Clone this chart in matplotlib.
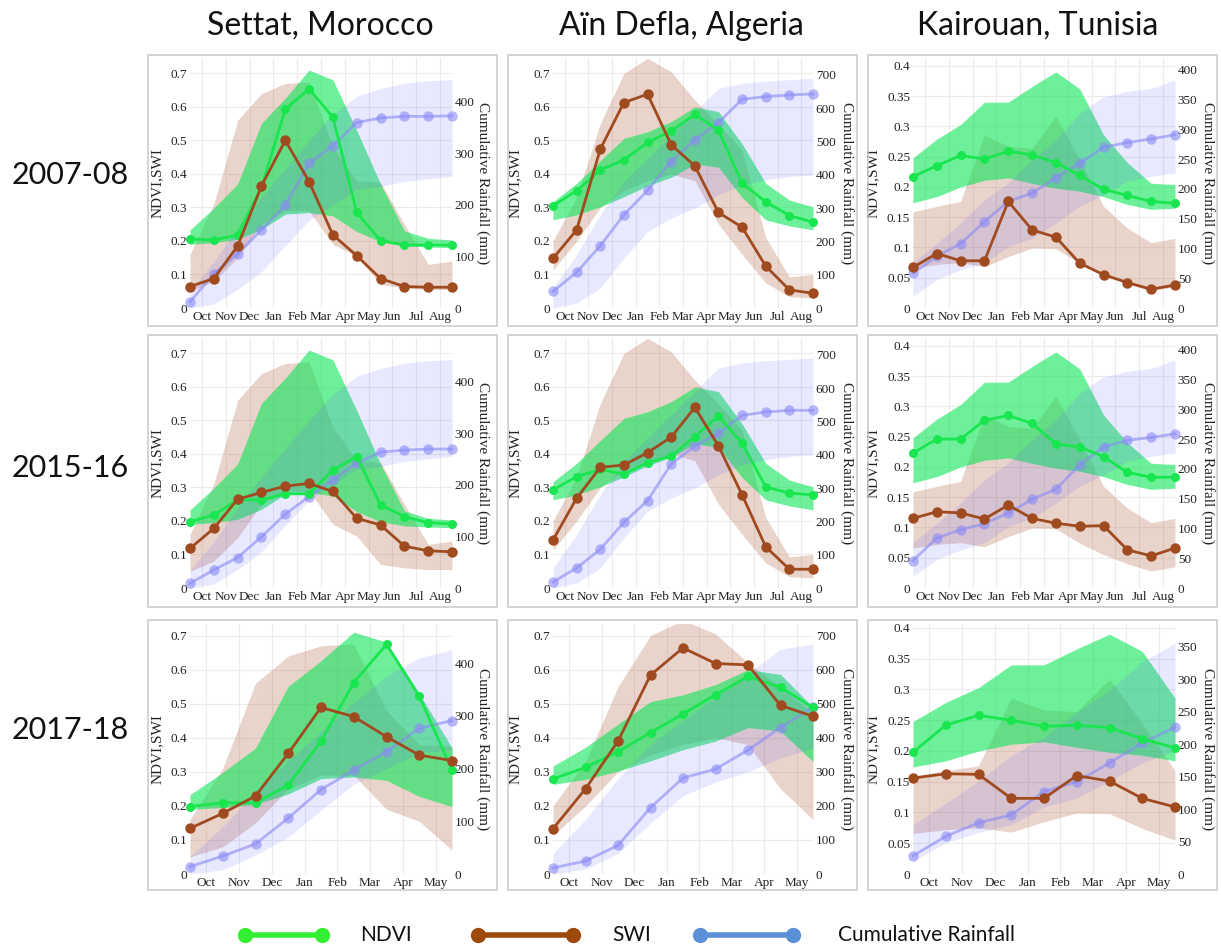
import matplotlib
matplotlib.use('Agg')
import matplotlib.pyplot as plt
import numpy as np
from matplotlib.patches import Rectangle
from matplotlib.lines import Line2D

plt.rcParams['font.family'] = ['Liberation Serif', 'DejaVu Serif']

W, H = 1221, 946

# ---------------- data ----------------
sites = ['Settat, Morocco', 'Aïn Defla, Algeria', 'Kairouan, Tunisia']
seasons = ['2007-08', '2015-16', '2017-18']
month_labels = ['Oct', 'Nov', 'Dec', 'Jan', 'Feb', 'Mar', 'Apr', 'May', 'Jun', 'Jul', 'Aug']

# climatological envelopes (Sep..Aug)
settat_ndvi_lo = [0.19, 0.195, 0.205, 0.235, 0.28, 0.285, 0.275, 0.228, 0.198, 0.185, 0.182, 0.18]
settat_ndvi_hi = [0.233, 0.298, 0.37, 0.551, 0.626, 0.71, 0.681, 0.53, 0.37, 0.23, 0.208, 0.203]
settat_swi_lo = [0.05, 0.08, 0.15, 0.25, 0.29, 0.29, 0.19, 0.155, 0.07, 0.06, 0.055, 0.055]
settat_swi_hi = [0.16, 0.31, 0.56, 0.64, 0.67, 0.675, 0.48, 0.38, 0.375, 0.25, 0.13, 0.14]
settat_rain_lo = [0, 8, 36, 70, 121, 170, 200, 230, 235, 245, 250, 255]
settat_rain_hi = [33, 90, 155, 215, 270, 325, 375, 410, 425, 435, 440, 442]

aindefla_ndvi_lo = [0.263, 0.278, 0.302, 0.332, 0.365, 0.39, 0.43, 0.42, 0.33, 0.263, 0.245, 0.233]
aindefla_ndvi_hi = [0.317, 0.372, 0.44, 0.506, 0.526, 0.556, 0.60, 0.586, 0.49, 0.372, 0.322, 0.302]
aindefla_swi_lo = [0.113, 0.2, 0.3, 0.35, 0.38, 0.40, 0.38, 0.25, 0.16, 0.075, 0.034, 0.03]
aindefla_swi_hi = [0.2, 0.33, 0.55, 0.70, 0.745, 0.705, 0.62, 0.55, 0.47, 0.21, 0.093, 0.1]
aindefla_rain_lo = [0, 15, 60, 150, 230, 270, 300, 340, 370, 385, 395, 400]
aindefla_rain_hi = [60, 160, 280, 380, 450, 520, 590, 660, 675, 682, 686, 690]

kairouan_ndvi_lo = [0.174, 0.184, 0.2, 0.211, 0.215, 0.206, 0.198, 0.193, 0.184, 0.171, 0.163, 0.165]
kairouan_ndvi_hi = [0.248, 0.279, 0.303, 0.34, 0.34, 0.366, 0.39, 0.362, 0.286, 0.24, 0.206, 0.204]
kairouan_swi_lo = [0.066, 0.072, 0.075, 0.068, 0.085, 0.099, 0.098, 0.074, 0.055, 0.04, 0.028, 0.035]
kairouan_swi_hi = [0.159, 0.168, 0.176, 0.286, 0.267, 0.264, 0.317, 0.245, 0.168, 0.132, 0.108, 0.115]
kairouan_rain_lo = [20, 48, 64, 76, 103, 117, 143, 171, 190, 213, 221, 227]
kairouan_rain_hi = [76, 109, 143, 182, 210, 249, 283, 327, 355, 364, 369, 383]

# seasonal series
settat_0708_ndvi = [0.206, 0.203, 0.218, 0.36, 0.593, 0.654, 0.569, 0.285, 0.201, 0.188, 0.188, 0.188]
settat_0708_swi = [0.064, 0.088, 0.185, 0.364, 0.5, 0.377, 0.218, 0.156, 0.088, 0.064, 0.062, 0.062]
settat_0708_rain = [12, 66, 105, 151, 199, 280, 314, 359, 368, 371, 371, 372]
settat_1516_ndvi = [0.198, 0.218, 0.263, 0.263, 0.281, 0.281, 0.352, 0.392, 0.248, 0.213, 0.195, 0.191]
settat_1516_swi = [0.118, 0.178, 0.265, 0.285, 0.304, 0.312, 0.288, 0.208, 0.188, 0.125, 0.111, 0.108]
settat_1516_rain = [9, 35, 59, 99, 143, 177, 209, 242, 263, 267, 269, 269]
settat_1718_ndvi = [0.198, 0.209, 0.209, 0.261, 0.39, 0.562, 0.674, 0.522, 0.305]
settat_1718_swi = [0.134, 0.178, 0.229, 0.354, 0.489, 0.462, 0.403, 0.349, 0.333]
settat_1718_rain = [14, 34, 57, 106, 160, 197, 232, 276, 291]

aindefla_0708_ndvi = [0.305, 0.35, 0.412, 0.442, 0.494, 0.528, 0.578, 0.531, 0.372, 0.317, 0.276, 0.256]
aindefla_0708_swi = [0.148, 0.233, 0.474, 0.613, 0.638, 0.487, 0.424, 0.285, 0.241, 0.125, 0.054, 0.044]
aindefla_0708_rain = [50, 107, 187, 280, 353, 440, 505, 557, 627, 635, 640, 643]
aindefla_1516_ndvi = [0.293, 0.332, 0.354, 0.34, 0.374, 0.394, 0.452, 0.513, 0.432, 0.302, 0.283, 0.278]
aindefla_1516_swi = [0.143, 0.268, 0.36, 0.367, 0.404, 0.45, 0.539, 0.424, 0.278, 0.123, 0.056, 0.056]
aindefla_1516_rain = [18, 60, 116, 197, 262, 372, 426, 464, 518, 528, 533, 533]
aindefla_1718_ndvi = [0.279, 0.313, 0.359, 0.415, 0.47, 0.526, 0.58, 0.548, 0.489]
aindefla_1718_swi = [0.133, 0.25, 0.39, 0.584, 0.664, 0.618, 0.614, 0.495, 0.463]
aindefla_1718_rain = [18, 38, 84, 195, 282, 308, 364, 430, 490]

kairouan_0708_ndvi = [0.217, 0.235, 0.252, 0.246, 0.259, 0.253, 0.24, 0.219, 0.196, 0.186, 0.176, 0.173]
kairouan_0708_swi = [0.067, 0.09, 0.078, 0.078, 0.176, 0.129, 0.117, 0.074, 0.055, 0.042, 0.031, 0.038]
kairouan_0708_rain = [58, 87, 108, 145, 179, 193, 219, 243, 270, 278, 284, 291]
kairouan_1516_ndvi = [0.223, 0.246, 0.246, 0.277, 0.285, 0.272, 0.238, 0.233, 0.217, 0.191, 0.183, 0.183]
kairouan_1516_swi = [0.115, 0.126, 0.124, 0.114, 0.137, 0.115, 0.107, 0.102, 0.103, 0.063, 0.053, 0.066]
kairouan_1516_rain = [46, 84, 98, 108, 126, 149, 166, 207, 237, 248, 253, 259]
kairouan_1718_ndvi = [0.198, 0.242, 0.258, 0.25, 0.24, 0.242, 0.238, 0.22, 0.205]
kairouan_1718_swi = [0.156, 0.163, 0.162, 0.123, 0.123, 0.16, 0.151, 0.123, 0.109]
kairouan_1718_rain = [28, 58, 79, 91, 127, 142, 171, 202, 226]

left_ticks = [np.round(np.arange(0, 0.71, 0.1), 2), np.round(np.arange(0, 0.71, 0.1), 2),
              np.round(np.arange(0, 0.41, 0.05), 2)]
right_ticks = [np.arange(0, 401, 100), np.arange(0, 701, 100), np.arange(0, 401, 50)]

# ---------------- layout ----------------
bands = [
    (settat_ndvi_lo, settat_ndvi_hi, settat_swi_lo, settat_swi_hi, settat_rain_lo, settat_rain_hi),
    (aindefla_ndvi_lo, aindefla_ndvi_hi, aindefla_swi_lo, aindefla_swi_hi, aindefla_rain_lo, aindefla_rain_hi),
    (kairouan_ndvi_lo, kairouan_ndvi_hi, kairouan_swi_lo, kairouan_swi_hi, kairouan_rain_lo, kairouan_rain_hi),
]
series = [
    [(settat_0708_ndvi, settat_0708_swi, settat_0708_rain),
     (aindefla_0708_ndvi, aindefla_0708_swi, aindefla_0708_rain),
     (kairouan_0708_ndvi, kairouan_0708_swi, kairouan_0708_rain)],
    [(settat_1516_ndvi, settat_1516_swi, settat_1516_rain),
     (aindefla_1516_ndvi, aindefla_1516_swi, aindefla_1516_rain),
     (kairouan_1516_ndvi, kairouan_1516_swi, kairouan_1516_rain)],
    [(settat_1718_ndvi, settat_1718_swi, settat_1718_rain),
     (aindefla_1718_ndvi, aindefla_1718_swi, aindefla_1718_rain),
     (kairouan_1718_ndvi, kairouan_1718_swi, kairouan_1718_rain)],
]

col_x = [(190, 452), (553, 813), (913, 1175)]
row_y = [(58, 308), (338, 588), (624, 874)]
box_x = [(148, 497), (508, 857), (868, 1217)]
box_y = [(55, 326), (335, 607), (620, 890)]
left_top = [[0.746, 0.746, 0.413], [0.746, 0.746, 0.413], [0.734, 0.734, 0.4065]]
right_top = [[484, 751, 420], [484, 750, 420], [474, 734, 385]]
ylab_left = [(164 - 190) / 262, (522 - 553) / 260, (880 - 913) / 262]
ylab_right = [(483 - 190) / 262, (847 - 553) / 260, (1208 - 913) / 262]

GREEN = '#19e64f'
BROWN = '#a04a20'
BLUE = '#8a8af5'
GREEN_BAND = '#00e650'
BROWN_BAND = '#b06040'
BLUE_BAND = '#6060ff'

fig = plt.figure(figsize=(W / 100, H / 100), dpi=100)

def fmt_left(v):
    return '0' if v == 0 else ('%g' % v)

for r in range(3):
    for c in range(3):
        bx0, bx1 = box_x[c]
        by0, by1 = box_y[r]
        fig.add_artist(Rectangle((bx0 / W, 1 - by1 / H), (bx1 - bx0) / W, (by1 - by0) / H,
                                 transform=fig.transFigure, fill=False,
                                 ec='#c9c9c9', lw=1.1))
        x0, x1 = col_x[c]
        y0, y1 = row_y[r]
        rect = [x0 / W, 1 - y1 / H, (x1 - x0) / W, (y1 - y0) / H]
        ndvi, swi, rain = series[r][c]
        n = len(ndvi)
        x = np.arange(n)
        nlo, nhi, slo, shi, rlo, rhi = [np.asarray(b[:n]) for b in bands[c]]

        axb = fig.add_axes(rect)
        axb.patch.set_alpha(0)
        axb.fill_between(x, slo, shi, color=BROWN_BAND, alpha=0.27, lw=0)
        axb.fill_between(x, nlo, nhi, color=GREEN_BAND, alpha=0.57, lw=0)
        axb.set_xlim(0, n - 1)
        axb.set_ylim(0, left_top[r][c])
        axb.set_xticks(x[:-1] + 0.5)
        axb.set_xticklabels(month_labels[:n - 1])
        axb.set_yticks(left_ticks[c])
        axb.set_yticklabels([fmt_left(v) for v in left_ticks[c]])
        axb.grid(True, color='#ebebeb', lw=0.8)
        axb.set_axisbelow(True)
        axb.tick_params(axis='both', length=0, labelsize=9.5, labelcolor='#222222')
        axb.tick_params(axis='x', pad=2)
        axb.tick_params(axis='y', pad=2)
        for s in axb.spines.values():
            s.set_visible(False)
        axb.set_ylabel('NDVI,SWI', fontsize=11, color='#222222')
        axb.yaxis.set_label_coords(ylab_left[c], 0.5)

        axr = axb.twinx()
        axr.fill_between(x, rlo, rhi, color=BLUE_BAND, alpha=0.14, lw=0)
        axr.plot(x, rain, color=BLUE, alpha=0.6, lw=2, marker='o', ms=7.5,
                 mec='none', clip_on=False)
        axr.set_ylim(0, right_top[r][c])
        yt = [t for t in right_ticks[c] if t <= right_top[r][c]]
        axr.set_yticks(yt)
        axr.set_yticklabels(['%d' % t for t in yt])
        axr.tick_params(axis='y', length=0, labelsize=9.5, labelcolor='#222222', pad=2)
        for s in axr.spines.values():
            s.set_visible(False)
        axr.set_ylabel('Cumulative Rainfall (mm)', fontsize=11, color='#222222',
                       rotation=270, va='center')
        axr.yaxis.set_label_coords(ylab_right[c], 0.5)

        axt = axb.twinx()
        axt.set_ylim(0, left_top[r][c])
        axt.plot(x, ndvi, color=GREEN, lw=2, marker='o', ms=6.5, mec='none', clip_on=False)
        axt.plot(x, swi, color=BROWN, lw=2, marker='o', ms=7.5, mec='none', clip_on=False)
        axt.set_axis_off()

# column titles
title_x = [320, 681, 1038]
for c in range(3):
    fig.text(title_x[c] / W, 1 - 26 / H, sites[c], ha='center', va='center',
             fontsize=23, family=['Lato', 'DejaVu Sans'], color='#111111')

# row labels
row_label_y = [175, 468, 730]
for r in range(3):
    fig.text(70 / W, 1 - row_label_y[r] / H, seasons[r], ha='center', va='center',
             fontsize=22, family=['Lato', 'DejaVu Sans'], color='#111111')

# legend
leg_y = 1 - 935 / H
leg_items = [((245, 322), 360, '#33ee33', 'NDVI'),
             ((478, 573), 612, '#9c4a0c', 'SWI'),
             ((700, 793), 838, '#5b90d8', 'Cumulative Rainfall')]
for (lx0, lx1), tx, col, lab in leg_items:
    fig.add_artist(Line2D([lx0 / W, lx1 / W], [leg_y, leg_y], transform=fig.transFigure,
                          color=col, lw=4, marker='o', ms=11, mec='none',
                          solid_capstyle='butt'))
    fig.text(tx / W, leg_y, lab, ha='left', va='center', fontsize=15,
             family=['Lato', 'DejaVu Sans'], color='#111111')

fig.savefig('out.png', dpi=100)
